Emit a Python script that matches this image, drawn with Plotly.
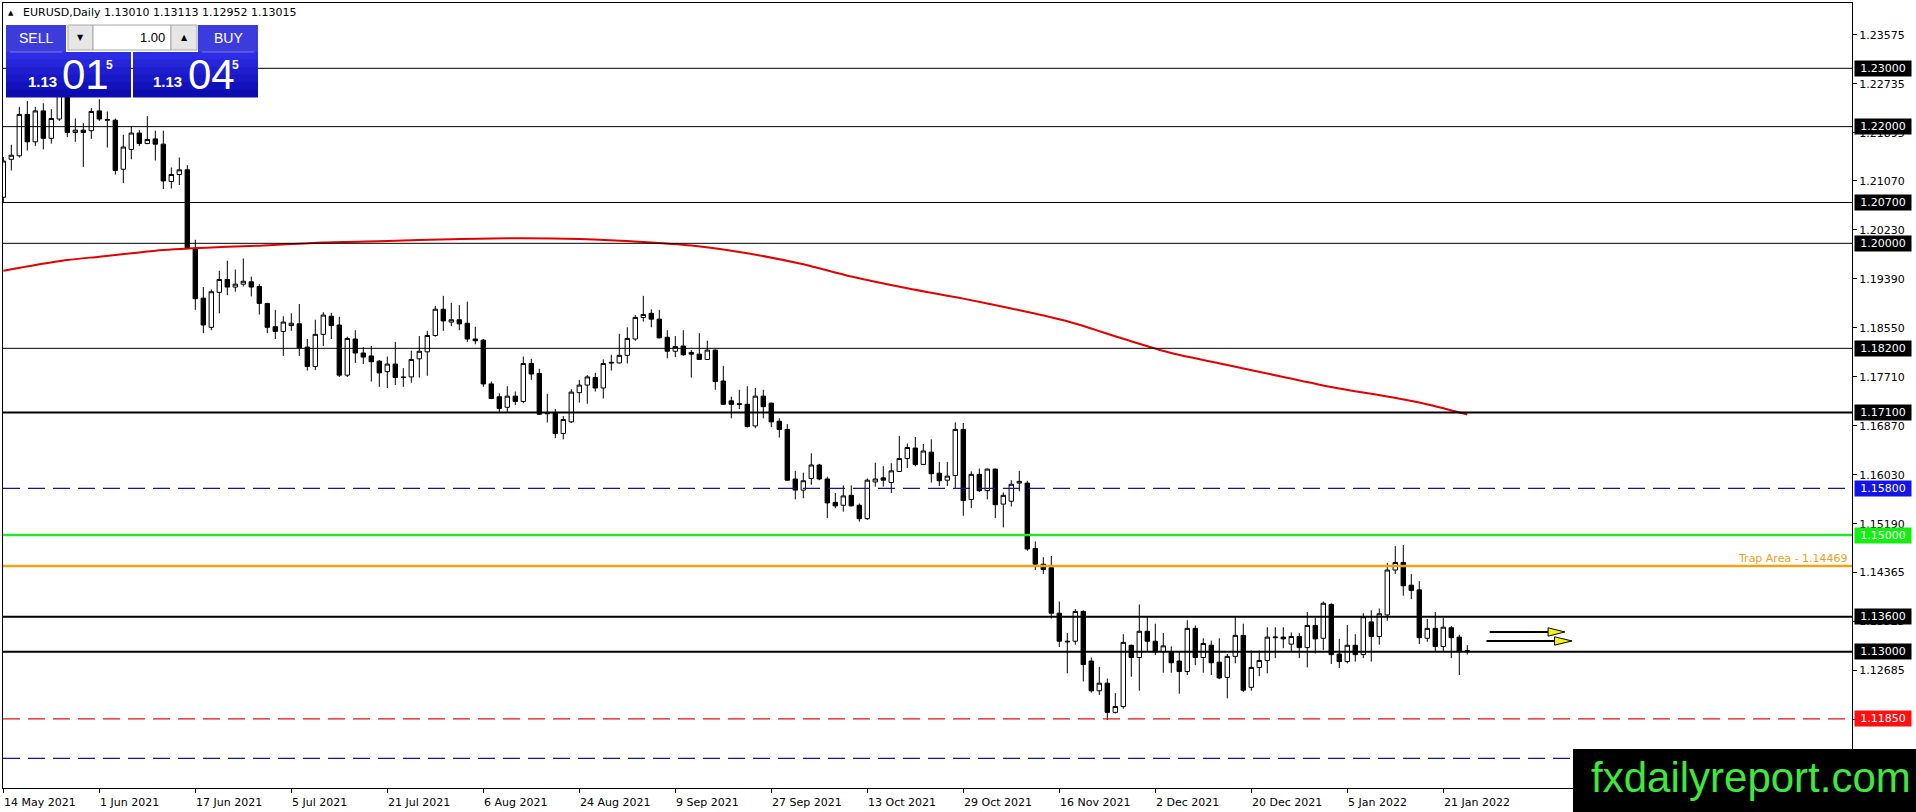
import plotly.graph_objects as go

# ---- data (EURUSD daily) ----
tick_labels = ["14 May 2021", "1 Jun 2021", "17 Jun 2021", "5 Jul 2021", "21 Jul 2021",
               "6 Aug 2021", "24 Aug 2021", "9 Sep 2021", "27 Sep 2021", "13 Oct 2021",
               "29 Oct 2021", "16 Nov 2021", "2 Dec 2021", "20 Dec 2021", "5 Jan 2022",
               "21 Jan 2022"]
bars_per_tick = 12

opens = [1.2079, 1.2144, 1.2150, 1.2221, 1.2174, 1.2227, 1.2180, 1.2213, 1.2259, 1.2190,
         1.2194, 1.2193, 1.2227, 1.2211, 1.2211, 1.2127, 1.2161, 1.2189, 1.2171, 1.2179,
         1.2170, 1.2106, 1.2118, 1.2126, 1.1991, 1.1906, 1.1856, 1.1916, 1.1938, 1.1925,
         1.1930, 1.1934, 1.1926, 1.1897, 1.1857, 1.1849, 1.1859, 1.1862, 1.1822, 1.1789,
         1.1844, 1.1875, 1.1860, 1.1774, 1.1836, 1.1812, 1.1807, 1.1798, 1.1780, 1.1793,
         1.1771, 1.1771, 1.1802, 1.1814, 1.1842, 1.1887, 1.1865, 1.1869, 1.1863, 1.1836,
         1.1834, 1.1759, 1.1737, 1.1719, 1.1738, 1.1729, 1.1794, 1.1777, 1.1709, 1.1709,
         1.1674, 1.1694, 1.1744, 1.1757, 1.1770, 1.1752, 1.1796, 1.1795, 1.1808, 1.1836,
         1.1873, 1.1880, 1.1870, 1.1839, 1.1815, 1.1824, 1.1813, 1.1810, 1.1801, 1.1817,
         1.1764, 1.1730, 1.1725, 1.1724, 1.1687, 1.1738, 1.1726, 1.1695, 1.1681, 1.1596,
         1.1577, 1.1597, 1.1620, 1.1596, 1.1556, 1.1551, 1.1568, 1.1551, 1.1528, 1.1591,
         1.1598, 1.1590, 1.1609, 1.1631, 1.1649, 1.1621, 1.1642, 1.1606, 1.1594, 1.1602,
         1.1681, 1.1561, 1.1604, 1.1576, 1.1613, 1.1553, 1.1558, 1.1589, 1.1589, 1.1477,
         1.1450, 1.1444, 1.1366, 1.1318, 1.1318, 1.1369, 1.1284, 1.1233, 1.1246, 1.1196,
         1.1206, 1.1311, 1.1290, 1.1335, 1.1318, 1.1300, 1.1299, 1.1284, 1.1266, 1.1340,
         1.1290, 1.1311, 1.1282, 1.1256, 1.1292, 1.1328, 1.1239, 1.1273, 1.1285, 1.1324,
         1.1325, 1.1313, 1.1326, 1.1307, 1.1345, 1.1323, 1.1381, 1.1296, 1.1283, 1.1311,
         1.1295, 1.1351, 1.1326, 1.1363, 1.1440, 1.1453, 1.1414, 1.1406, 1.1323, 1.1340,
         1.1309, 1.1341, 1.1325, 1.13010]
highs = [1.2148, 1.2169, 1.2234, 1.2244, 1.2234, 1.2240, 1.2230, 1.2277, 1.2270, 1.2214,
         1.2206, 1.2232, 1.2247, 1.2226, 1.2214, 1.2186, 1.2200, 1.2194, 1.2218, 1.2193,
         1.2193, 1.2130, 1.2147, 1.2134, 1.2006, 1.1925, 1.1921, 1.1953, 1.1970, 1.1955,
         1.1974, 1.1943, 1.1930, 1.1898, 1.1886, 1.1875, 1.1880, 1.1896, 1.1836, 1.1869,
         1.1882, 1.1881, 1.1874, 1.1840, 1.1851, 1.1822, 1.1824, 1.1800, 1.1806, 1.1831,
         1.1786, 1.1816, 1.1841, 1.1850, 1.1893, 1.1910, 1.1898, 1.1894, 1.1900, 1.1857,
         1.1836, 1.1763, 1.1743, 1.1755, 1.1746, 1.1806, 1.1802, 1.1785, 1.1742, 1.1716,
         1.1704, 1.1750, 1.1766, 1.1774, 1.1778, 1.1801, 1.1809, 1.1845, 1.1856, 1.1877,
         1.1910, 1.1887, 1.1886, 1.1851, 1.1841, 1.1851, 1.1817, 1.1846, 1.1833, 1.1818,
         1.1790, 1.1737, 1.1749, 1.1755, 1.1752, 1.1749, 1.1727, 1.1700, 1.1690, 1.1610,
         1.1607, 1.1640, 1.1622, 1.1600, 1.1572, 1.1585, 1.1585, 1.1554, 1.1597, 1.1624,
         1.1618, 1.1623, 1.1670, 1.1657, 1.1668, 1.1656, 1.1664, 1.1625, 1.1625, 1.1693,
         1.1692, 1.1609, 1.1614, 1.1614, 1.1614, 1.1573, 1.1594, 1.1610, 1.1593, 1.1489,
         1.1462, 1.1464, 1.1386, 1.1332, 1.1373, 1.1371, 1.1290, 1.1274, 1.1254, 1.1229,
         1.1330, 1.1312, 1.1381, 1.1359, 1.1348, 1.1332, 1.1309, 1.1300, 1.1354, 1.1345,
         1.1323, 1.1319, 1.1323, 1.1296, 1.1359, 1.1348, 1.1302, 1.1302, 1.1342, 1.1342,
         1.1342, 1.1333, 1.1332, 1.1368, 1.1358, 1.1386, 1.1383, 1.1322, 1.1346, 1.1330,
         1.1366, 1.1371, 1.1374, 1.1452, 1.1481, 1.1483, 1.1433, 1.1421, 1.1356, 1.1368,
         1.1358, 1.1344, 1.1329, 1.13113]
lows = [1.2071, 1.2125, 1.2147, 1.2159, 1.2167, 1.2161, 1.2171, 1.2210, 1.2182, 1.2174,
        1.2131, 1.2179, 1.2210, 1.2164, 1.2118, 1.2103, 1.2144, 1.2167, 1.2170, 1.2142,
        1.2093, 1.2094, 1.2100, 1.1990, 1.1886, 1.1846, 1.1851, 1.1880, 1.1911, 1.1917,
        1.1926, 1.1909, 1.1878, 1.1846, 1.1836, 1.1807, 1.1850, 1.1807, 1.1782, 1.1783,
        1.1824, 1.1836, 1.1771, 1.1771, 1.1795, 1.1793, 1.1763, 1.1754, 1.1752, 1.1757,
        1.1754, 1.1761, 1.1770, 1.1773, 1.1840, 1.1850, 1.1858, 1.1851, 1.1831, 1.1827,
        1.1754, 1.1733, 1.1709, 1.1709, 1.1723, 1.1726, 1.1766, 1.1706, 1.1693, 1.1666,
        1.1664, 1.1692, 1.1727, 1.1725, 1.1746, 1.1734, 1.1782, 1.1794, 1.1794, 1.1833,
        1.1866, 1.1856, 1.1837, 1.1803, 1.1805, 1.1807, 1.1770, 1.1800, 1.1800, 1.1749,
        1.1723, 1.1700, 1.1716, 1.1684, 1.1683, 1.1700, 1.1685, 1.1667, 1.1593, 1.1561,
        1.1563, 1.1586, 1.1594, 1.1529, 1.1546, 1.1540, 1.1549, 1.1523, 1.1526, 1.1583,
        1.1583, 1.1572, 1.1608, 1.1615, 1.1618, 1.1620, 1.1590, 1.1584, 1.1584, 1.1580,
        1.1533, 1.1546, 1.1574, 1.1561, 1.1529, 1.1513, 1.1549, 1.1575, 1.1473, 1.1440,
        1.1433, 1.1357, 1.1308, 1.1263, 1.1312, 1.1249, 1.1230, 1.1226, 1.1183, 1.1194,
        1.1202, 1.1257, 1.1233, 1.1300, 1.1294, 1.1264, 1.1264, 1.1228, 1.1260, 1.1277,
        1.1264, 1.1260, 1.1253, 1.1220, 1.1280, 1.1231, 1.1233, 1.1258, 1.1263, 1.1289,
        1.1306, 1.1300, 1.1289, 1.1273, 1.1297, 1.1303, 1.1279, 1.1272, 1.1280, 1.1283,
        1.1289, 1.1283, 1.1312, 1.1353, 1.1433, 1.1396, 1.1390, 1.1313, 1.1317, 1.1300,
        1.1300, 1.1289, 1.1260, 1.12952]
closes = [1.2141, 1.2151, 1.2221, 1.2174, 1.2227, 1.2180, 1.2214, 1.2259, 1.2190, 1.2194,
          1.2190, 1.2226, 1.2213, 1.2212, 1.2125, 1.2165, 1.2189, 1.2171, 1.2178, 1.2170,
          1.2107, 1.2118, 1.2126, 1.1991, 1.1905, 1.1860, 1.1917, 1.1938, 1.1925, 1.1930,
          1.1935, 1.1925, 1.1897, 1.1856, 1.1849, 1.1865, 1.1863, 1.1821, 1.1789, 1.1844,
          1.1877, 1.1859, 1.1774, 1.1837, 1.1812, 1.1805, 1.1797, 1.1778, 1.1793, 1.1770,
          1.1770, 1.1801, 1.1815, 1.1842, 1.1887, 1.1867, 1.1869, 1.1862, 1.1836, 1.1833,
          1.1759, 1.1734, 1.1717, 1.1738, 1.1729, 1.1794, 1.1776, 1.1707, 1.1708, 1.1674,
          1.1698, 1.1745, 1.1757, 1.1771, 1.1752, 1.1794, 1.1795, 1.1808, 1.1837, 1.1873,
          1.1878, 1.1870, 1.1838, 1.1815, 1.1823, 1.1809, 1.1810, 1.1801, 1.1817, 1.1763,
          1.1724, 1.1724, 1.1724, 1.1686, 1.1738, 1.1720, 1.1694, 1.1681, 1.1594, 1.1577,
          1.1593, 1.1620, 1.1596, 1.1555, 1.1550, 1.1567, 1.1550, 1.1528, 1.1594, 1.1596,
          1.1594, 1.1610, 1.1631, 1.1650, 1.1621, 1.1644, 1.1605, 1.1593, 1.1601, 1.1681,
          1.1559, 1.1604, 1.1576, 1.1613, 1.1552, 1.1568, 1.1587, 1.1592, 1.1476, 1.1450,
          1.1441, 1.1366, 1.1318, 1.1317, 1.1369, 1.1278, 1.1233, 1.1246, 1.1196, 1.1206,
          1.1316, 1.1290, 1.1335, 1.1318, 1.1300, 1.1310, 1.1281, 1.1266, 1.1340, 1.1290,
          1.1314, 1.1281, 1.1255, 1.1292, 1.1328, 1.1234, 1.1273, 1.1285, 1.1325, 1.1325,
          1.1322, 1.1326, 1.1307, 1.1345, 1.1322, 1.1383, 1.1295, 1.1283, 1.1311, 1.1295,
          1.1360, 1.1326, 1.1365, 1.1440, 1.1453, 1.1413, 1.1405, 1.1324, 1.1340, 1.1309,
          1.1342, 1.1324, 1.1300, 1.13015]

# moving average (red), sampled along the drawn curve
ma_bar = [0, 4, 8, 12, 16, 20, 28, 32, 40, 48, 56, 64, 72, 80, 86, 93, 100, 106, 113,
          120, 126, 133, 140, 146, 153, 160, 167, 173, 177, 183]
ma_val = [1.19531, 1.19628, 1.19714, 1.19771, 1.19829, 1.19885, 1.19942, 1.19959, 1.20014,
          1.20040, 1.20069, 1.20086, 1.20074, 1.20024, 1.19963, 1.19829, 1.19640, 1.19431,
          1.19229, 1.19052, 1.18883, 1.18663, 1.18363, 1.18120, 1.17914, 1.17710, 1.17511,
          1.17374, 1.17271, 1.17066]

price_ticks = [1.23575, 1.22735, 1.21895, 1.21070, 1.20230, 1.19390, 1.18550, 1.17710,
               1.16870, 1.16030, 1.15190, 1.14365, 1.13525, 1.12685, 1.11845]

black_levels = [1.23, 1.22, 1.207, 1.20, 1.182, 1.171, 1.136, 1.13]
heavy_levels = [1.171, 1.136, 1.13]
blue_level = 1.158
green_level = 1.15
trap_level = 1.14469
red_level = 1.1185
low_blue_level = 1.1117

header = "EURUSD,Daily 1.13010 1.13113 1.12952 1.13015"
bid_big, bid_small, ask_big, ask_small = "01", "5", "04", "5"
# -------------------------------------------------

W, H = 1916, 812
ML, MR, MT, MB = 3, 64, 3, 24
PW, PH = W - ML - MR, H - MT - MB
FONT = "DejaVu Sans"


def px(x):
    return (x - ML) / PW


def py(y):
    return (H - MB - y) / PH


bars = list(range(len(opens)))

fig = go.Figure()
fig.add_trace(go.Candlestick(
    x=bars, open=opens, high=highs, low=lows, close=closes,
    increasing=dict(line=dict(color="black", width=1), fillcolor="white"),
    decreasing=dict(line=dict(color="black", width=1), fillcolor="black"),
    whiskerwidth=0, hoverinfo="skip", showlegend=False))
fig.add_trace(go.Scatter(x=ma_bar, y=ma_val, mode="lines",
                         line=dict(color="#e00000", width=2, shape="spline", smoothing=0.8),
                         hoverinfo="skip", showlegend=False))

shapes = []


def hline(y, color, width=1, dash="solid"):
    shapes.append(dict(type="line", xref="paper", x0=0, x1=1, yref="y", y0=y, y1=y,
                       line=dict(color=color, width=width, dash=dash), layer="above"))


for lv in black_levels:
    hline(lv, "black", 2 if lv in heavy_levels else 1)
hline(blue_level, "#16168e", 1.3, "17px,8px")
hline(green_level, "#2ee02e", 2.5)
hline(trap_level, "#f2a218", 2.5)
hline(red_level, "#e01414", 1.3, "17px,8px")
hline(low_blue_level, "#16168e", 1.3, "17px,8px")


def rect(x0, y0, x1, y1, fill, line_color=None, lw=0):
    shapes.append(dict(type="rect", xref="paper", yref="paper",
                       x0=px(x0), x1=px(x1), y0=py(y1), y1=py(y0),
                       fillcolor=fill, layer="above",
                       line=dict(color=line_color or fill, width=lw)))


# trade panel
rect(6, 25, 66, 52, "#3c3cdc")
rect(198, 25, 258, 52, "#3c3cdc")
rect(68, 25, 93, 50, "#e6e6e6", "#a8a8a8", 1)
rect(93, 25, 171, 50, "white", "#a8a8a8", 1)
rect(171, 25, 197, 50, "#e6e6e6", "#a8a8a8", 1)
grad = ["#2c2ce4", "#2525da", "#1e1ed0", "#1818c6", "#1212bc", "#0c0cb0"]
step = 45 / len(grad)
for k, c in enumerate(grad):
    rect(6, 52 + k * step, 131, 52 + (k + 1) * step + 0.5, c)
    rect(133, 52 + k * step, 258, 52 + (k + 1) * step + 0.5, c)
shapes.append(dict(type="line", xref="paper", yref="paper", x0=px(10), x1=px(62),
                   y0=py(52), y1=py(52), line=dict(color="#7a7ae8", width=1), layer="above"))
shapes.append(dict(type="line", xref="paper", yref="paper", x0=px(202), x1=px(254),
                   y0=py(52), y1=py(52), line=dict(color="#7a7ae8", width=1), layer="above"))

# watermark box
rect(1573, 749, 1920, 815, "black")

# arrows drawn on the chart (bar index / price)
for x0, x1, tip, y in [(185.8, 193.1, 195.2, 1.13338), (185.4, 193.9, 196.1, 1.13184)]:
    shapes.append(dict(type="line", xref="x", yref="y", x0=x0, x1=x1, y0=y, y1=y,
                       line=dict(color="black", width=2), layer="above"))
    shapes.append(dict(type="path", xref="x", yref="y", layer="above",
                       path=f"M {x1},{y + 0.00072} L {tip},{y} L {x1},{y - 0.00072} Z",
                       fillcolor="#f2f21a", line=dict(color="black", width=1)))

ann = []


def text(x, y, s, size=11, color="black", xa="left", family=FONT, bold=False):
    if bold:
        s = "<b>" + s + "</b>"
    ann.append(dict(xref="paper", yref="paper", x=px(x), y=py(y), text=s,
                    showarrow=False, xanchor=xa, yanchor="middle",
                    font=dict(size=size, color=color, family=family)))


text(6, 13, "▲", size=7)
text(21, 13, header, size=11)
text(36, 38.5, "SELL", size=14, color="white", xa="center", family="Liberation Sans")
text(228, 38.5, "BUY", size=14, color="white", xa="center", family="Liberation Sans")
text(80.5, 37.5, "▼", size=8, xa="center")
text(184, 37.5, "▲", size=8, xa="center")
text(167, 37.5, "1.00", size=13, xa="right", family="Liberation Sans")
text(26, 82, "1.13", size=15, color="white", family="Liberation Sans", bold=True)
text(60, 75, bid_big, size=42, color="white", family="Liberation Sans")
text(104, 65, bid_small, size=12, color="white", family="Liberation Sans", bold=True)
text(151, 82, "1.13", size=15, color="white", family="Liberation Sans", bold=True)
text(186, 75, ask_big, size=42, color="white", family="Liberation Sans")
text(230, 65, ask_small, size=12, color="white", family="Liberation Sans", bold=True)
text(1751, 777, "fxdailyreport.com", size=42, color="#3ee83e", xa="center",
     family="Liberation Sans")

# date labels, left-aligned at each tick like the terminal draws them
for k, lab in enumerate(tick_labels):
    ann.append(dict(xref="x", yref="paper", x=k * bars_per_tick, y=0, text=lab,
                    showarrow=False, xanchor="left", yanchor="top", xshift=-1, yshift=-6,
                    font=dict(size=11, color="black", family=FONT)))

# highlighted level prices on the price scale
tags = [(lv, "black") for lv in black_levels] + [(blue_level, "#1414e6"),
                                                 (green_level, "#12ee12"),
                                                 (red_level, "#ff0f0f")]
for lv, bg in tags:
    ann.append(dict(xref="paper", yref="y", x=1, y=lv, text=f"{lv:.5f}",
                    showarrow=False, xanchor="left", yanchor="middle", xshift=2,
                    bgcolor=bg, width=54, height=13, borderpad=1, align="center",
                    font=dict(size=11, color="white", family=FONT)))

ann.append(dict(xref="paper", yref="y", x=1, y=trap_level, text=f"Trap Area - {trap_level:.5f}",
                showarrow=False, xanchor="right", yanchor="bottom", xshift=-2, yshift=-1,
                font=dict(size=11, color="#f0a020", family=FONT)))

fig.update_layout(
    width=W, height=H,
    margin=dict(l=ML, r=MR, t=MT, b=MB, pad=0),
    paper_bgcolor="white", plot_bgcolor="white",
    showlegend=False, hovermode=False,
    boxgap=0.45, boxgroupgap=0,
    shapes=shapes, annotations=ann,
    font=dict(family=FONT, size=11, color="black"),
)
fig.update_xaxes(range=[-0.04, 231.09], rangeslider_visible=False,
                 tickvals=[k * bars_per_tick for k in range(len(tick_labels))],
                 showticklabels=False, ticks="outside", ticklen=4, tickcolor="black",
                 showgrid=False, zeroline=False, showline=True, mirror=True,
                 linecolor="black", linewidth=1, fixedrange=True)
fig.update_yaxes(range=[1.106637, 1.241193], side="right",
                 tickvals=price_ticks, ticktext=[f"{v:.5f}" for v in price_ticks],
                 ticks="outside", ticklen=4, tickcolor="black",
                 tickfont=dict(size=11, color="black", family=FONT),
                 showgrid=False, zeroline=False, showline=True, mirror=True,
                 linecolor="black", linewidth=1, fixedrange=True)

fig.write_html("out.html", config={"displayModeBar": False, "staticPlot": True},
               post_script="document.body.style.margin='0';document.body.style.overflow='hidden';")
